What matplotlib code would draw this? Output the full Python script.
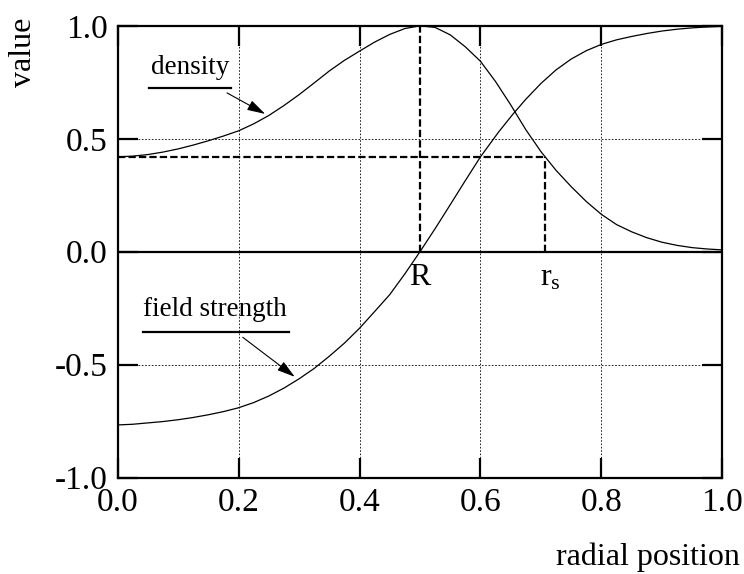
import matplotlib
matplotlib.use("Agg")
import matplotlib.pyplot as plt

plt.rcParams['font.family'] = ['Liberation Serif', 'DejaVu Serif']
plt.rcParams['mathtext.fontset'] = 'custom'
plt.rcParams['mathtext.rm'] = 'Liberation Serif'
plt.rcParams['mathtext.it'] = 'Liberation Serif'

# values
density_x = [0.00, 0.025, 0.05, 0.075, 0.10, 0.125, 0.15, 0.175, 0.20, 0.225, 0.25, 0.275,
             0.30, 0.325, 0.35, 0.375, 0.40, 0.425, 0.45, 0.475, 0.50,
             0.525, 0.55, 0.575, 0.60, 0.625, 0.65, 0.675, 0.70, 0.725, 0.75, 0.775,
             0.80, 0.825, 0.85, 0.875, 0.90, 0.925, 0.95, 0.975, 1.00]
density_y = [0.420, 0.423, 0.430, 0.441, 0.455, 0.472, 0.491, 0.512, 0.535, 0.566, 0.603, 0.647,
             0.695, 0.747, 0.800, 0.847, 0.888, 0.928, 0.962, 0.988, 1.000,
             0.993, 0.960, 0.907, 0.843, 0.753, 0.650, 0.540, 0.443, 0.360, 0.288, 0.222,
             0.165, 0.120, 0.088, 0.062, 0.042, 0.028, 0.018, 0.012, 0.008]

field_x = [0.00, 0.025, 0.05, 0.075, 0.10, 0.125, 0.15, 0.175, 0.20, 0.225, 0.25, 0.275,
           0.30, 0.325, 0.35, 0.375, 0.40, 0.425, 0.45, 0.475, 0.50,
           0.525, 0.55, 0.575, 0.60, 0.63, 0.654, 0.675, 0.70, 0.725, 0.75, 0.775,
           0.80, 0.825, 0.85, 0.875, 0.90, 0.925, 0.95, 0.975, 1.00]
field_y = [-0.767, -0.764, -0.758, -0.752, -0.744, -0.734, -0.722, -0.708, -0.691, -0.668, -0.639, -0.604,
           -0.563, -0.517, -0.463, -0.405, -0.339, -0.265, -0.190, -0.098, 0.000,
           0.102, 0.208, 0.315, 0.420, 0.530, 0.610, 0.675, 0.745, 0.805, 0.853, 0.890,
           0.918, 0.938, 0.953, 0.966, 0.977, 0.985, 0.991, 0.995, 0.998]

R = 0.5
r_s = 0.707
density_at_rs = 0.42

ticks_x = [0.0, 0.2, 0.4, 0.6, 0.8, 1.0]
ticks_y = [-1.0, -0.5, 0.0, 0.5, 1.0]

fig = plt.figure(figsize=(7.44, 5.74), dpi=100)
ax = fig.add_axes([0.158, 0.168, 0.813, 0.787])

# dotted grid (not on the zero line)
for gx in [0.2, 0.4, 0.6, 0.8]:
    ax.axvline(gx, color='k', lw=0.6, ls=(0, (2, 2)), zorder=1)
for gy in [-0.5, 0.5]:
    ax.axhline(gy, color='k', lw=0.6, ls=(0, (2, 2)), zorder=1)

ax.axhline(0, color='k', lw=1.6, zorder=2)

dash = (0, (3.3, 1.4))
ax.plot([R, R], [0, 1], color='k', lw=1.6, ls=dash, zorder=2)
ax.plot([0, r_s], [density_at_rs, density_at_rs], color='k', lw=1.6, ls=dash, zorder=2)
ax.plot([r_s, r_s], [0, density_at_rs], color='k', lw=1.6, ls=dash, zorder=2)

ax.plot(density_x, density_y, color='k', lw=0.9, zorder=3)
ax.plot(field_x, field_y, color='k', lw=0.9, zorder=3)

ax.set_xlim(0, 1)
ax.set_ylim(-1, 1)
ax.set_xticks(ticks_x)
ax.set_yticks(ticks_y)
ax.set_xticklabels([f"{t:.1f}" for t in ticks_x])
ax.set_yticklabels([f"{t:.1f}" for t in ticks_y])
ax.tick_params(direction='in', length=14.5, width=1.6, labelsize=24,
               top=True, right=True, pad=7)
for s in ax.spines.values():
    s.set_linewidth(1.6)

# labels with underline and arrow
arrow = dict(arrowstyle='-|>,head_length=0.55,head_width=0.16', lw=0.8, color='k',
             mutation_scale=20, shrinkA=0, shrinkB=0)

ax.text(0.12, 0.787, "density", fontsize=19.5, ha='center', va='baseline')
ax.plot([0.052, 0.188], [0.724, 0.724], color='k', lw=1.6, clip_on=False)
ax.annotate("", xy=(0.244, 0.610), xytext=(0.181, 0.703), arrowprops=arrow)

ax.text(0.161, -0.285, "field strength", fontsize=19.5, ha='center', va='baseline')
ax.plot([0.042, 0.283], [-0.354, -0.354], color='k', lw=1.6, clip_on=False)
ax.annotate("", xy=(0.293, -0.554), xytext=(0.207, -0.379), arrowprops=arrow)

ax.text(R, -0.148, "R", fontsize=23, ha='center', va='baseline')
ax.text(r_s + 0.008, -0.148, r"r$_{\mathrm{s}}$", fontsize=23, ha='center', va='baseline')

fig.text(0.031, 0.909, "value", fontsize=23, rotation=90, ha='center', va='center')
fig.text(0.871, 0.03, "radial position", fontsize=23, ha='center', va='center')

fig.savefig("out.png", dpi=100)
